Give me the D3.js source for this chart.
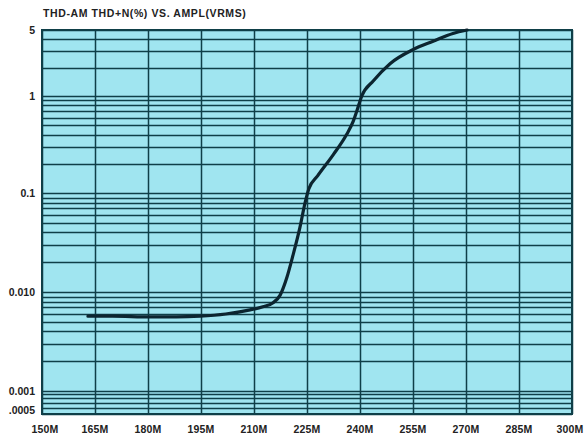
<!DOCTYPE html>
<html>
<head>
<meta charset="utf-8">
<script src="https://cdn.jsdelivr.net/npm/d3@7"></script>
<style>
    body { margin: 0; background: #fff; }
    text { font-family: 'Liberation Sans', Arial, sans-serif; font-weight: bold; fill: #222; }
</style>
</head>
<body>
<svg id="chart" width="584" height="437"></svg>
<script>
'use strict';

// Sweep amplitude (M) vs THD+N (%)
const freq = [163, 170, 180.6, 188, 194.7, 202, 208.9, 212.5, 215.4, 217.4, 219.3, 221.1, 223.0, 224.4, 225.5,
    228, 232.5, 236.2, 238.1, 239.1, 240.5, 243.8, 248.5, 255.0, 260.7, 266.3, 270.3];
const thd = [0.0057, 0.0057, 0.0056, 0.0056, 0.0057, 0.0060, 0.0066, 0.0071, 0.0078, 0.0093, 0.0140, 0.0240, 0.045, 0.078, 0.11,
    0.15, 0.25, 0.40, 0.55, 0.70, 1.0, 1.45, 2.2, 3.1, 3.8, 4.6, 5.0];

const xTicks = [150, 165, 180, 195, 210, 225, 240, 255, 270, 285, 300];
const yLabels = [
    {v: 5, t: '5'},
    {v: 1, t: '1'},
    {v: 0.1, t: '0.1'},
    {v: 0.01, t: '0.010'},
    {v: 0.001, t: '0.001'},
    {v: 0.0005, t: '.0005'}
];

const vis = d3.select('#chart');
const plotLeft = 42, plotRight = 572, plotTop = 30, plotBottom = 414;

const x = d3.scaleLinear().domain([150, 300]).range([plotLeft, plotRight]);
// log paper from the scan is a little squeezed at both ends
const y = d3.scaleLog()
    .domain([0.0005, 0.001, 0.01, 0.1, 1, 5])
    .range([plotBottom, 391, 292, 193, 96, plotTop]);

vis.append('text')
    .attr('x', 43).attr('y', 17)
    .style('font-size', '10.5px')
    .style('letter-spacing', '0.6px')
    .text('THD-AM THD+N(%) VS. AMPL(VRMS)');

vis.append('rect')
    .attr('x', plotLeft).attr('y', plotTop)
    .attr('width', plotRight - plotLeft).attr('height', plotBottom - plotTop)
    .attr('fill', '#a0e5f0');

const grid = vis.append('g').attr('stroke', '#0f3f48');

grid.selectAll('.hl')
    .data(y.ticks())
    .enter().append('line')
    .attr('x1', plotLeft).attr('x2', plotRight)
    .attr('y1', d => Math.round(y(d)) + 0.5)
    .attr('y2', d => Math.round(y(d)) + 0.5)
    .attr('stroke-width', 1.3);

grid.selectAll('.vl')
    .data(xTicks)
    .enter().append('line')
    .attr('x1', d => Math.round(x(d)) + 0.5)
    .attr('x2', d => Math.round(x(d)) + 0.5)
    .attr('y1', plotTop).attr('y2', plotBottom)
    .attr('stroke-width', 1.5);

vis.append('rect')
    .attr('x', plotLeft).attr('y', plotTop)
    .attr('width', plotRight - plotLeft).attr('height', plotBottom - plotTop)
    .attr('fill', 'none')
    .attr('stroke', '#0f3f48')
    .attr('stroke-width', 2);

const line = d3.line()
    .x((d, i) => x(freq[i]))
    .y(d => y(d))
    .curve(d3.curveMonotoneX);

vis.append('path')
    .datum(thd)
    .attr('d', line)
    .attr('fill', 'none')
    .attr('stroke', '#0c2530')
    .attr('stroke-width', 3.2)
    .attr('stroke-linecap', 'round');

vis.selectAll('.ylab')
    .data(yLabels)
    .enter().append('text')
    .attr('x', 35)
    .attr('y', d => y(d.v))
    .attr('dy', d => d.v === 0.0005 ? '0' : '0.35em')
    .attr('text-anchor', 'end')
    .style('font-size', '10.5px')
    .text(d => d.t);

vis.selectAll('.xlab')
    .data(xTicks)
    .enter().append('text')
    .attr('x', d => d === 150 ? x(d) + 3 : (d === 300 ? x(d) - 2 : x(d)))
    .attr('y', 433)
    .attr('text-anchor', 'middle')
    .style('font-size', '10.5px')
    .style('letter-spacing', '0.2px')
    .text(d => d + 'M');
</script>
</body>
</html>
